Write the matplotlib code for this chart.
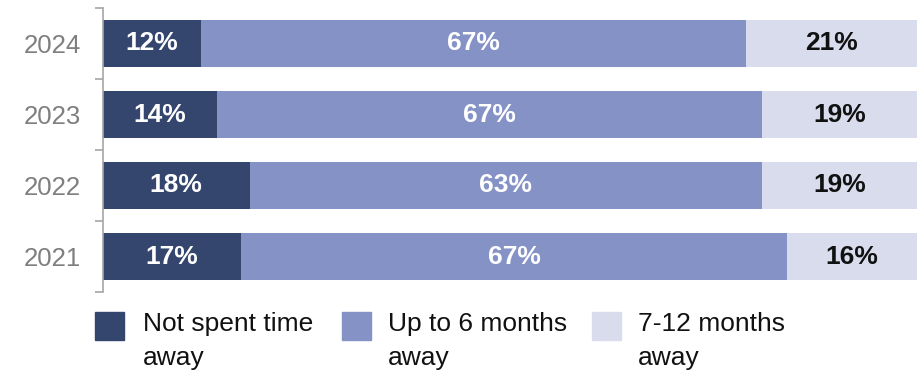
import matplotlib
matplotlib.use("Agg")
import matplotlib.pyplot as plt
from matplotlib.patches import Rectangle

plt.rcParams['font.family'] = ['Liberation Sans', 'DejaVu Sans']

years = ["2024", "2023", "2022", "2021"]
not_spent = [12, 14, 18, 17]
up_to_6 = [67, 67, 63, 67]
seven_12 = [21, 19, 19, 16]
series_names = ["Not spent time\naway", "Up to 6 months\naway", "7-12 months\naway"]
colors = ["#34466E", "#8492C6", "#D9DCED"]
label_colors = ["white", "white", "#111111"]

W, H = 917, 371
fig = plt.figure(figsize=(W / 100, H / 100), dpi=100)
ax = fig.add_axes([103 / W, 1 - 292 / H, 1 - 103 / W, (292 - 8) / H])

ypos = list(range(len(years)))
series = [not_spent, up_to_6, seven_12]
left = [0] * len(years)
for vals, c, lc in zip(series, colors, label_colors):
    bars = ax.barh(ypos, vals, left=left, height=0.65, color=c, edgecolor='none')
    for y, v, l in zip(ypos, vals, left):
        ax.text(l + v / 2, y, f"{v}%", ha='center', va='center', color=lc,
                fontsize=19, fontweight='bold')
    left = [a + b for a, b in zip(left, vals)]

ax.set_xlim(0, 100)
ax.set_ylim(len(years) - 0.5, -0.5)
ax.set_yticks(ypos)
ax.set_yticklabels(years, fontsize=18.5, color='#7F7F7F')
ax.tick_params(axis='y', which='major', length=0, pad=16)
ax.set_yticks([i - 0.5 for i in range(len(years) + 1)], minor=True)
ax.tick_params(axis='y', which='minor', length=6, width=1.2, color='#A6A6A6', direction='out')
ax.set_xticks([])
for s in ['top', 'right', 'bottom']:
    ax.spines[s].set_visible(False)
ax.spines['left'].set_color('#A6A6A6')
ax.spines['left'].set_linewidth(1.2)

# legend
sq_x = [95, 342, 592]
txt_x = [143, 388, 638]
for sx, tx, name, c in zip(sq_x, txt_x, series_names, colors):
    fig.add_artist(Rectangle((sx / W, 1 - 340 / H), 29 / W, 28 / H,
                             transform=fig.transFigure, color=c))
    fig.text(tx / W, 1 - 312 / H, name, ha='left', va='top', fontsize=19,
             color='#111111', linespacing=1.5)

fig.savefig("out.png", dpi=100)
